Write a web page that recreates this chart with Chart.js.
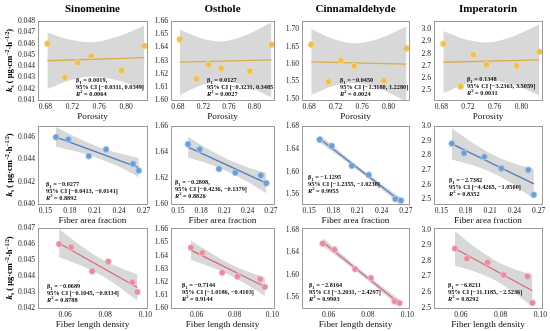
<!DOCTYPE html>
<html>
<head>
<meta charset="utf-8">
<script src="https://cdn.jsdelivr.net/npm/chart.js@4.4.1/dist/chart.umd.min.js"></script>
<style>
  html, body { margin:0; padding:0; background:#ffffff; }
  body { width:550px; height:331px; position:relative; overflow:hidden; }
  canvas { position:absolute; }
</style>
</head>
<body>
<script>
// ---------------- DATA ----------------
const compounds = ['Sinomenine', 'Osthole', 'Cinnamaldehyde', 'Imperatorin'];
const xAxisTitles = ['Porosity', 'Fiber area fraction', 'Fiber length density'];

// ks of the six samples (same samples in every panel)
const ksSinomenine     = [0.0460, 0.0458, 0.0443, 0.0449, 0.0436, 0.0430];
const ksOsthole        = [1.646, 1.642, 1.627, 1.624, 1.622, 1.616];
const ksCinnamaldehyde = [1.656, 1.645, 1.610, 1.594, 1.552, 1.549];
const ksImperatorin    = [2.880, 2.815, 2.790, 2.710, 2.700, 2.530];

// structural parameters of the same six samples
const porosity           = [0.683, 0.827, 0.728, 0.748, 0.793, 0.709];
const fiberAreaFraction  = [0.163, 0.178, 0.203, 0.224, 0.257, 0.264];
const fiberLengthDensity = [0.057, 0.063, 0.0735, 0.0815, 0.0935, 0.096];

// x tick labels
const xTicksPorosity = [0.68, 0.72, 0.76, 0.80];
const xTicksArea     = [0.15, 0.18, 0.21, 0.24, 0.27];
const xTicksLength   = [0.06, 0.08, 0.10];

// y tick labels
const yTicksSinPor  = [0.041, 0.042, 0.043, 0.044, 0.045, 0.046, 0.047, 0.048];
const yTicksOstPor  = [1.60, 1.61, 1.62, 1.63, 1.64, 1.65, 1.66];
const yTicksCinPor  = [1.50, 1.55, 1.60, 1.65, 1.70];
const yTicksImpPor  = [2.5, 2.6, 2.7, 2.8, 2.9, 3.0];
const yTicksSinArea = [0.040, 0.042, 0.044, 0.046];
const yTicksOstArea = [1.60, 1.62, 1.64, 1.66];
const yTicksCinArea = [1.56, 1.60, 1.64, 1.68];
const yTicksImpArea = [2.5, 2.6, 2.7, 2.8, 2.9, 3.0];
const yTicksSinLen  = [0.042, 0.043, 0.044, 0.045, 0.046, 0.047];
const yTicksOstLen  = [1.60, 1.61, 1.62, 1.63, 1.64, 1.65, 1.66];
const yTicksCinLen  = [1.56, 1.60, 1.64, 1.68];
const yTicksImpLen  = [2.5, 2.6, 2.7, 2.8, 2.9, 3.0];

// x positions where the fitted line / confidence band were read
const bandXPor  = [0.683, 0.7155, 0.748, 0.7875, 0.827];
const bandXArea = [0.163, 0.1889, 0.2148, 0.2408, 0.264];
const bandXLen  = [0.057, 0.0672, 0.0774, 0.0867, 0.096];

// fitted line (first and last x) and 95% band (upper / lower)
const fitSinPor = [0.04448, 0.04475];
const upSinPor  = [0.04699, 0.04635, 0.04611, 0.04662, 0.04761];
const loSinPor  = [0.04197, 0.04273, 0.04309, 0.04274, 0.04189];
const fitOstPor = [1.6287, 1.6305];
const upOstPor  = [1.6536, 1.6471, 1.6445, 1.6493, 1.6590];
const loOstPor  = [1.6038, 1.6111, 1.6145, 1.6107, 1.6020];
const fitCinPor = [1.6060, 1.5995];
const upCinPor  = [1.7010, 1.6730, 1.6600, 1.6745, 1.7080];
const loCinPor  = [1.5110, 1.5360, 1.5460, 1.5280, 1.4910];
const fitImpPor = [2.7287, 2.7481];
const upImpPor  = [2.9847, 2.9180, 2.8916, 2.9408, 3.0404];
const loImpPor  = [2.4727, 2.5482, 2.5834, 2.5448, 2.4558];

const fitSinArea = [0.04601, 0.04326];
const upSinArea  = [0.04690, 0.04594, 0.04512, 0.04455, 0.04412];
const loSinArea  = [0.04513, 0.04468, 0.04408, 0.04331, 0.04240];
const fitOstArea = [1.6437, 1.6160];
const upOstArea  = [1.6517, 1.6423, 1.6342, 1.6280, 1.6238];
const loOstArea  = [1.6357, 1.6309, 1.6248, 1.6168, 1.6082];
const fitCinArea = [1.6578, 1.5472];
const upCinArea  = [1.6646, 1.6343, 1.6050, 1.5774, 1.5538];
const loCinArea  = [1.6510, 1.6245, 1.5970, 1.5678, 1.5406];
const fitImpArea = [2.8777, 2.6045];
const upImpArea  = [2.9849, 2.8840, 2.8004, 2.7426, 2.7081];
const loImpArea  = [2.7705, 2.7312, 2.6746, 2.5922, 2.5009];

const fitSinLen = [0.04605, 0.04328];
const upSinLen  = [0.04693, 0.04595, 0.04511, 0.04455, 0.04411];
const loSinLen  = [0.04517, 0.04469, 0.04409, 0.04333, 0.04245];
const fitOstLen = [1.6441, 1.6162];
const upOstLen  = [1.6516, 1.6421, 1.6338, 1.6280, 1.6233];
const loOstLen  = [1.6366, 1.6315, 1.6252, 1.6177, 1.6091];
const fitCinLen = [1.6589, 1.5483];
const upCinLen  = [1.6663, 1.6352, 1.6053, 1.5798, 1.5553];
const loCinLen  = [1.6515, 1.6248, 1.5967, 1.5696, 1.5413];
const fitImpLen = [2.8801, 2.6077];
const upImpLen  = [2.9910, 2.8873, 2.8017, 2.7488, 2.7120];
const loImpLen  = [2.7692, 2.7303, 2.6733, 2.5964, 2.5034];

// regression statistics printed in each panel
const betaPor = [0.0019, 0.0127, -0.0450, 0.1348];
const ciPor   = [[-0.0311, 0.0349], [-0.3231, 0.3485], [-1.3180, 1.2280], [-3.2363, 3.5059]];
const r2Por   = [0.0064, 0.0027, 0.0024, 0.0031];
const betaArea = [-0.0277, -0.2808, -1.1295, -2.7382];
const ciArea   = [[-0.0413, -0.0141], [-0.4236, -0.1379], [-1.2355, -1.0236], [-4.4265, -1.0500]];
const r2Area   = [0.8892, 0.8826, 0.9955, 0.8352];
const betaLen = [-0.0689, -0.7144, -2.8164, -6.8211];
const ciLen   = [[-0.1045, -0.0334], [-1.0186, -0.4103], [-3.2031, -2.4297], [-11.1185, -2.5236]];
const r2Len   = [0.8788, 0.9144, 0.9903, 0.8292];

// ---------------- LAYOUT / STYLE ----------------
const SERIF = '"Liberation Serif", "Times New Roman", Times, serif';
const colL = [38, 171, 302, 434], colR = [147, 274, 409, 542];
const rowT = [21, 126, 228], rowB = [100, 204, 308];
const PR = 10, PB = 22;
const xRange = [[0.669, 0.831], [0.141, 0.274], [0.0465, 0.1008]];
const yRange = [
  [[0.041, 0.048], [1.60, 1.66], [1.496, 1.724], [2.418, 3.068]],
  [[0.040, 0.047], [1.60, 1.66], [1.543, 1.68], [2.467, 3.0]],
  [[0.042, 0.047], [1.60, 1.661], [1.540, 1.684], [2.497, 3.012]]
];
const yDecimals = [3, 2, 2, 1];
const rowStyle = [
  { fill: '#EDBF52', edge: '#F7DC98', line: '#D9AD48' },
  { fill: '#6C9ED6', edge: '#B9D0EC', line: '#4E7FBB' },
  { fill: '#E78C9F', edge: '#F5C6D0', line: '#D5687F' }
];
const bandColor = 'rgba(168,168,168,0.45)';
const annotDX = [[38, 36, 38, 33], [8, 4, 6, 15], [9, 11, 7, 14]];
const annotDY = [[-20, -20, -20, -21], [-20, -22, -27, -24], [-22, -23, -23, -23]];
const betaComma = [[true, false, false, false], [false, true, false, false], [false, false, false, false]];

const ksAll = [ksSinomenine, ksOsthole, ksCinnamaldehyde, ksImperatorin];
const xAll = [porosity, fiberAreaFraction, fiberLengthDensity];
const xTicksAll = [xTicksPorosity, xTicksArea, xTicksLength];
const bandXAll = [bandXPor, bandXArea, bandXLen];
const yTicksAll = [
  [yTicksSinPor, yTicksOstPor, yTicksCinPor, yTicksImpPor],
  [yTicksSinArea, yTicksOstArea, yTicksCinArea, yTicksImpArea],
  [yTicksSinLen, yTicksOstLen, yTicksCinLen, yTicksImpLen]
];
const fitAll = [
  [fitSinPor, fitOstPor, fitCinPor, fitImpPor],
  [fitSinArea, fitOstArea, fitCinArea, fitImpArea],
  [fitSinLen, fitOstLen, fitCinLen, fitImpLen]
];
const upAll = [
  [upSinPor, upOstPor, upCinPor, upImpPor],
  [upSinArea, upOstArea, upCinArea, upImpArea],
  [upSinLen, upOstLen, upCinLen, upImpLen]
];
const loAll = [
  [loSinPor, loOstPor, loCinPor, loImpPor],
  [loSinArea, loOstArea, loCinArea, loImpArea],
  [loSinLen, loOstLen, loCinLen, loImpLen]
];
const betaAll = [betaPor, betaArea, betaLen];
const ciAll = [ciPor, ciArea, ciLen];
const r2All = [r2Por, r2Area, r2Len];

function fmt(v) { return (v < 0 ? '\u2212' : '') + Math.abs(v).toFixed(4); }

function drawSegs(ctx, segs, x, y) {
  let cx = x;
  for (const s of segs) {
    ctx.font = s.f;
    ctx.fillText(s.t, cx, y + (s.dy || 0));
    cx += ctx.measureText(s.t).width;
  }
  return cx - x;
}
function segsWidth(ctx, segs) {
  let w = 0;
  for (const s of segs) { ctx.font = s.f; w += ctx.measureText(s.t).width; }
  return w;
}

function makePanel(r, c) {
  const L = colL[c], R = colR[c], T = rowT[r], B = rowB[r];
  const PL = c === 0 ? 38 : 34;
  const PT = r === 0 ? 21 : 16;
  const cw = (R - L) + PL + PR, ch = (B - T) + PT + PB;
  const cv = document.createElement('canvas');
  cv.width = cw; cv.height = ch;
  cv.style.left = (L - PL) + 'px'; cv.style.top = (T - PT) + 'px';
  cv.style.width = cw + 'px'; cv.style.height = ch + 'px';
  document.body.appendChild(cv);

  const st = rowStyle[r];
  const xs = xAll[r], ys = ksAll[c];
  const bx = bandXAll[r];
  const pts = xs.map((x, i) => ({ x: x, y: ys[i] }));
  const fit = fitAll[r][c];
  const fitPts = [{ x: bx[0], y: fit[0] }, { x: bx[bx.length - 1], y: fit[1] }];
  const upPts = bx.map((x, i) => ({ x: x, y: upAll[r][c][i] }));
  const loPts = bx.map((x, i) => ({ x: x, y: loAll[r][c][i] }));
  const xt = xTicksAll[r], yt = yTicksAll[r][c];
  const dec = yDecimals[c];

  const decor = {
    id: 'decor' + r + c,
    afterDatasetsDraw(chart) {
      const ctx = chart.ctx, ca = chart.chartArea;
      ctx.save();
      ctx.fillStyle = '#111';
      ctx.textAlign = 'left';
      ctx.textBaseline = 'alphabetic';
      const fMain = 'bold 6.3px ' + SERIF, fSmall = 'bold 4.6px ' + SERIF;
      const x0 = ca.left + annotDX[r][c];
      const y0 = ca.bottom + annotDY[r][c];
      const lh = 6.8;
      const beta = betaAll[r][c], ci = ciAll[r][c], r2 = r2All[r][c];
      drawSegs(ctx, [
        { t: '\u03B2', f: fMain },
        { t: '1', f: fSmall, dy: 1.5 },
        { t: ' = ' + fmt(beta) + (betaComma[r][c] ? ',' : ''), f: fMain }
      ], x0, y0 + 2);
      drawSegs(ctx, [{ t: '95% CI [' + fmt(ci[0]) + ', ' + fmt(ci[1]) + ']', f: fMain }], x0, y0 + lh + 2);
      drawSegs(ctx, [
        { t: 'R', f: 'italic ' + fMain },
        { t: '2', f: fSmall, dy: -2.6 },
        { t: ' = ' + r2.toFixed(4), f: fMain }
      ], x0, y0 + 2 * lh + 2);
      ctx.restore();
    },
    afterDraw(chart) {
      const ctx = chart.ctx, ca = chart.chartArea;
      ctx.save();
      ctx.strokeStyle = '#9a9a9a';
      ctx.lineWidth = 1;
      ctx.strokeRect(ca.left + 0.5, ca.top + 0.5, ca.right - ca.left, ca.bottom - ca.top);
      ctx.fillStyle = '#000';
      if (r === 0) {
        ctx.font = 'bold 11px ' + SERIF;
        ctx.textAlign = 'center';
        ctx.textBaseline = 'middle';
        ctx.fillText(compounds[c], (ca.left + ca.right) / 2, ca.top - 12);
      }
      if (c === 0) {
        const fB = 'bold 8.5px ' + SERIF, fS = 'bold 5.6px ' + SERIF;
        const segs = [
          { t: 'k', f: 'italic bold 9px ' + SERIF },
          { t: 's', f: fS, dy: 2 },
          { t: ' ( \u03BCg\u00B7cm', f: fB },
          { t: '\u22122', f: fS, dy: -3.4 },
          { t: '\u00B7h', f: fB },
          { t: '\u22121/2', f: fS, dy: -3.4 },
          { t: ')', f: fB }
        ];
        ctx.textAlign = 'left';
        ctx.textBaseline = 'alphabetic';
        const w = segsWidth(ctx, segs);
        ctx.translate(9, (ca.top + ca.bottom) / 2);
        ctx.rotate(-Math.PI / 2);
        drawSegs(ctx, segs, -w / 2, 3);
      }
      ctx.restore();
    }
  };

  new Chart(cv, {
    type: 'scatter',
    data: {
      datasets: [
        { type: 'scatter', data: pts, backgroundColor: st.fill, borderColor: st.edge, borderWidth: 0.8, pointRadius: 3.1 },
        { type: 'line', data: fitPts, showLine: true, borderColor: st.line, borderWidth: 1.3, pointRadius: 0, fill: false },
        { type: 'line', data: upPts, showLine: true, borderColor: 'rgba(0,0,0,0)', borderWidth: 0, pointRadius: 0,
          backgroundColor: bandColor, fill: '+1', cubicInterpolationMode: 'monotone' },
        { type: 'line', data: loPts, showLine: true, borderColor: 'rgba(0,0,0,0)', borderWidth: 0, pointRadius: 0,
          fill: false, cubicInterpolationMode: 'monotone' }
      ]
    },
    options: {
      responsive: false,
      devicePixelRatio: 1,
      animation: false,
      events: [],
      layout: { padding: { left: 0, top: PT, right: PR, bottom: 0 } },
      plugins: { legend: { display: false }, tooltip: { enabled: false }, title: { display: false } },
      scales: {
        x: {
          type: 'linear', position: 'bottom',
          min: xRange[r][0], max: xRange[r][1],
          afterFit: s => { s.height = PB; },
          afterBuildTicks: s => { s.ticks = xt.map(v => ({ value: v })); },
          ticks: { autoSkip: false, maxRotation: 0, padding: 2, color: '#222',
                   font: { family: SERIF, size: 7.6 }, callback: v => Number(v).toFixed(2) },
          grid: { display: false, drawTicks: false },
          border: { display: false },
          title: { display: true, text: xAxisTitles[r], color: '#111', padding: 0,
                   font: { family: SERIF, size: 9.2 } }
        },
        y: {
          type: 'linear', position: 'left',
          min: yRange[r][c][0], max: yRange[r][c][1],
          afterFit: s => { s.width = PL; },
          afterBuildTicks: s => { s.ticks = yt.map(v => ({ value: v })); },
          ticks: { autoSkip: false, padding: 3, color: '#222',
                   font: { family: SERIF, size: 7.6 }, callback: v => Number(v).toFixed(dec) },
          grid: { display: false, drawTicks: false },
          border: { display: false }
        }
      }
    },
    plugins: [decor]
  });
}

for (let r = 0; r < 3; r++) for (let c = 0; c < 4; c++) makePanel(r, c);
</script>
</body>
</html>
